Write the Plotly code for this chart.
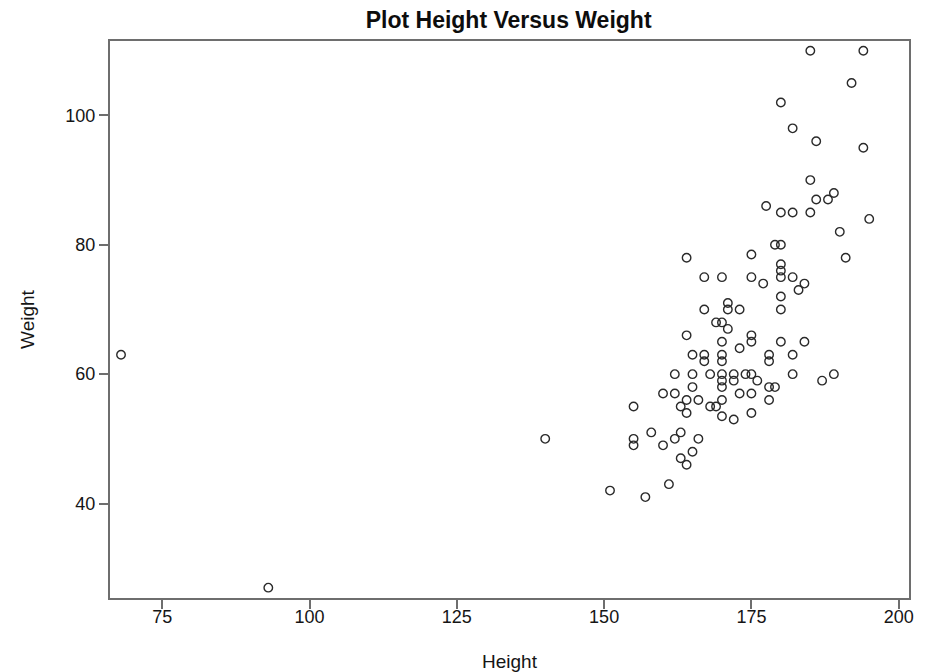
import plotly.graph_objects as go

# Height (cm) and weight (kg) of each subject
height = [68, 93, 140, 151, 155, 155, 155, 157, 158, 160,
          160, 161, 162, 162, 162, 163, 163, 163, 164, 164,
          164, 164, 164, 165, 165, 165, 165, 166, 166, 167,
          167, 167, 167, 168, 168, 169, 169, 170, 170, 170,
          170, 170, 170, 170, 170, 170, 170, 171, 171, 171,
          172, 172, 172, 173, 173, 173, 174, 175, 175, 175,
          175, 175, 175, 175, 176, 177, 177.5, 178, 178, 178,
          178, 179, 179, 180, 180, 180, 180, 180, 180, 180,
          180, 180, 182, 182, 182, 182, 182, 183, 184, 184,
          185, 185, 185, 186, 186, 187, 188, 189, 189, 190,
          191, 192, 194, 194, 195]
weight = [63, 27, 50, 42, 55, 50, 49, 41, 51, 57,
          49, 43, 60, 57, 50, 55, 51, 47, 78, 66,
          56, 54, 46, 63, 60, 58, 48, 56, 50, 75,
          70, 63, 62, 60, 55, 68, 55, 75, 68, 65,
          63, 62, 60, 59, 58, 56, 53.5, 71, 70, 67,
          60, 59, 53, 70, 64, 57, 60, 78.5, 75, 66,
          65, 60, 57, 54, 59, 74, 86, 63, 62, 58,
          56, 80, 58, 102, 85, 80, 77, 76, 75, 72,
          70, 65, 98, 85, 75, 63, 60, 73, 74, 65,
          110, 90, 85, 96, 87, 59, 87, 88, 60, 82,
          78, 105, 110, 95, 84]

x_ticks = [75, 100, 125, 150, 175, 200]
y_ticks = [40, 60, 80, 100]

FONT = "Liberation Sans, Arial, Helvetica, sans-serif"
AXIS_COLOR = "#6e6e6e"
TEXT_COLOR = "#151515"

fig = go.Figure(
    go.Scatter(
        x=height,
        y=weight,
        mode="markers",
        marker=dict(
            symbol="circle-open",
            size=8.5,
            color="#2a2a2a",
            line=dict(width=1.4, color="#2a2a2a"),
        ),
        showlegend=False,
        hoverinfo="x+y",
    )
)

axis_common = dict(
    automargin=False,
    showgrid=False,
    zeroline=False,
    showline=True,
    linecolor=AXIS_COLOR,
    linewidth=2,
    mirror=True,
    ticks="outside",
    ticklen=9,
    tickwidth=1.5,
    tickcolor=AXIS_COLOR,
    tickfont=dict(family=FONT, size=18, color=TEXT_COLOR),
)

fig.update_xaxes(
    range=[66.13, 201.75],
    tickvals=x_ticks,
    ticktext=[str(v) for v in x_ticks],
    ticklabelstandoff=-8,
    title=dict(text="Height", font=dict(family=FONT, size=19, color=TEXT_COLOR), standoff=31),
    **axis_common,
)
fig.update_yaxes(
    range=[25.4, 111.5],
    tickvals=y_ticks,
    ticktext=[str(v) for v in y_ticks],
    title=dict(text="Weight", font=dict(family=FONT, size=19, color=TEXT_COLOR), standoff=26),
    **axis_common,
)

fig.update_layout(
    width=929,
    height=672,
    margin=dict(l=110, r=20, t=41, b=74, autoexpand=False),
    paper_bgcolor="white",
    plot_bgcolor="white",
    title=dict(
        text="<b>Plot Height Versus Weight</b>",
        font=dict(family=FONT, size=23, color="#0d0d0d"),
        x=0.5475,
        xanchor="center",
        y=0.971,
        yanchor="middle",
    ),
)

fig.write_html("out.html")
